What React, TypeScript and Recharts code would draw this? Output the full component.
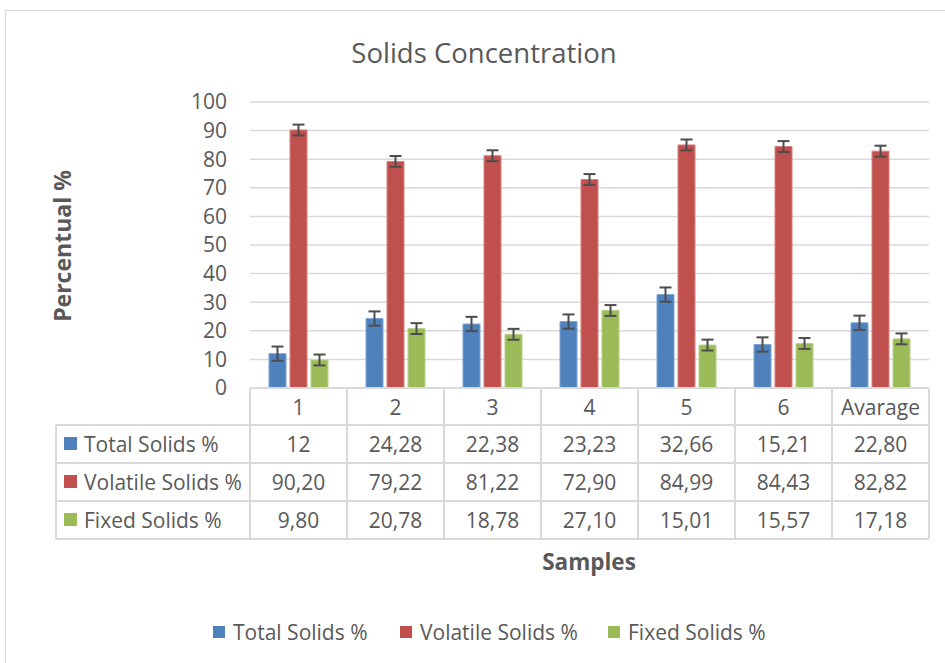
import { BarChart, Bar, XAxis, YAxis, CartesianGrid, ErrorBar } from "recharts";

const categories = ["1", "2", "3", "4", "5", "6", "Avarage"];
const seriesNames = ["Total Solids %", "Volatile Solids %", "Fixed Solids %"];
const seriesColors = ["#4F81BD", "#C0504D", "#9BBB59"];
const seriesStrokes = ["#7FA3D1", "#D68280", "#B8D08A"];

const totalSolids = [12, 24.28, 22.38, 23.23, 32.66, 15.21, 22.8];
const volatileSolids = [90.2, 79.22, 81.22, 72.9, 84.99, 84.43, 82.82];
const fixedSolids = [9.8, 20.78, 18.78, 27.1, 15.01, 15.57, 17.18];

const totalErr = [2.5, 2.5, 2.5, 2.5, 2.5, 2.5, 2.5];
const volatileErr = [1.9, 1.9, 1.9, 1.9, 1.9, 1.9, 1.9];
const fixedErr = [1.9, 1.9, 1.9, 1.9, 1.9, 1.9, 1.9];

const yTicks = [0, 10, 20, 30, 40, 50, 60, 70, 80, 90, 100];

const seriesValues = [totalSolids, volatileSolids, fixedSolids];
const keys = ["total", "volatile", "fixed"];

const data = categories.map((c, i) => ({
  name: c,
  total: totalSolids[i],
  totalErr: totalErr[i],
  volatile: volatileSolids[i],
  volatileErr: volatileErr[i],
  fixed: fixedSolids[i],
  fixedErr: fixedErr[i],
}));

const W = 945;
const H = 663;
const PLOT_LEFT = 250;
const PLOT_RIGHT = 16;
const CELL = (W - PLOT_LEFT - PLOT_RIGHT) / categories.length;
const ROWS = [0, 37, 75, 113, 151];
const TEXT = "#595959";
const LINE = "#D9D9D9";
const FONT = "'Open Sans', sans-serif";
const FS = 21;

const fmt = (v: number) =>
  Number.isInteger(v) ? String(v) : v.toFixed(2).replace(".", ",");

function TableTick(props: any) {
  const { x, y, payload, index } = props;
  const left = x - CELL / 2;
  const right = x + CELL / 2;
  const isLast = index === categories.length - 1;
  return (
    <g>
      <line x1={left} x2={left} y1={y} y2={y + ROWS[4]} stroke={LINE} strokeWidth={2} />
      {isLast && (
        <line x1={right} x2={right} y1={y} y2={y + ROWS[4]} stroke={LINE} strokeWidth={2} />
      )}
      {ROWS.map((r) => (
        <line key={r} x1={left} x2={right} y1={y + r} y2={y + r} stroke={LINE} strokeWidth={2} />
      ))}
      <text
        x={x}
        y={y + (ROWS[0] + ROWS[1]) / 2}
        textAnchor="middle"
        dominantBaseline="central"
        fill={TEXT}
        fontSize={FS}
        fontFamily={FONT}
      >
        {payload.value}
      </text>
      {seriesValues.map((vals, s) => (
        <text
          key={s}
          x={x}
          y={y + (ROWS[s + 1] + ROWS[s + 2]) / 2}
          textAnchor="middle"
          dominantBaseline="central"
          fill={TEXT}
          fontSize={FS}
          fontFamily={FONT}
        >
          {fmt(vals[payload.index ?? index])}
        </text>
      ))}
    </g>
  );
}

export default function App() {
  const axisY = 388;
  const errKeys = ["totalErr", "volatileErr", "fixedErr"];
  return (
    <div
      style={{
        position: "absolute",
        left: 0,
        top: 0,
        width: W,
        height: H,
        overflow: "hidden",
        background: "#fff",
        fontFamily: FONT,
      }}
    >
      <div
        style={{
          position: "absolute",
          left: 5,
          top: 10,
          width: W,
          height: H,
          border: `1px solid ${LINE}`,
        }}
      />
      <BarChart
        width={W}
        height={H}
        data={data}
        margin={{ top: 102, right: PLOT_RIGHT, left: PLOT_LEFT - 40, bottom: H - axisY - 151 }}
        barSize={17}
        barGap={4}
        style={{ position: "absolute", left: 0, top: 0 }}
      >
        <CartesianGrid vertical={false} stroke={LINE} strokeWidth={1.5} />
        <XAxis
          dataKey="name"
          height={151}
          axisLine={false}
          tickLine={false}
          tickSize={0}
          tickMargin={0}
          interval={0}
          tick={<TableTick />}
        />
        <YAxis
          width={40}
          domain={[0, 100]}
          ticks={yTicks}
          interval={0}
          axisLine={false}
          tickLine={false}
          tickMargin={17}
          tick={{ fill: TEXT, fontSize: FS, fontFamily: FONT }}
        />
        {keys.map((k, i) => (
          <Bar
            key={k}
            dataKey={k}
            name={seriesNames[i]}
            fill={seriesColors[i]}
            stroke={seriesStrokes[i]}
            strokeWidth={1}
            isAnimationActive={false}
          >
            <ErrorBar dataKey={errKeys[i]} width={6} stroke="#4D4D4D" strokeWidth={2} />
          </Bar>
        ))}
      </BarChart>
      <svg
        width={W}
        height={H}
        style={{ position: "absolute", left: 0, top: 0, pointerEvents: "none" }}
      >
        <text x={484} y={52} textAnchor="middle" dominantBaseline="central" fill={TEXT} fontSize={27.5} fontFamily={FONT}>
          Solids Concentration
        </text>
        <text
          x={62}
          y={246}
          textAnchor="middle"
          dominantBaseline="central"
          fill={TEXT}
          fontSize={23}
          fontWeight="bold"
          fontFamily={FONT}
          transform="rotate(-90 62 246)"
        >
          Percentual %
        </text>
        <text x={589} y={561} textAnchor="middle" dominantBaseline="central" fill={TEXT} fontSize={22.5} fontWeight="bold" fontFamily={FONT}>
          Samples
        </text>
        {/* left part of the data table */}
        <line x1={56} x2={56} y1={axisY + ROWS[1]} y2={axisY + ROWS[4]} stroke={LINE} strokeWidth={2} />
        {ROWS.slice(1).map((r) => (
          <line key={r} x1={56} x2={PLOT_LEFT} y1={axisY + r} y2={axisY + r} stroke={LINE} strokeWidth={2} />
        ))}
        {seriesNames.map((n, s) => {
          const cy = axisY + (ROWS[s + 1] + ROWS[s + 2]) / 2;
          return (
            <g key={n}>
              <rect x={64} y={cy - 7} width={13} height={13} fill={seriesColors[s]} />
              <text x={84} y={cy} dominantBaseline="central" fill={TEXT} fontSize={FS} fontFamily={FONT}>
                {n}
              </text>
            </g>
          );
        })}
        {/* legend */}
        {seriesNames.map((n, s) => {
          const lx = [213, 400, 608][s];
          return (
            <g key={n}>
              <rect x={lx} y={626} width={12} height={12} fill={seriesColors[s]} />
              <text x={lx + 20} y={632} dominantBaseline="central" fill={TEXT} fontSize={FS} fontFamily={FONT}>
                {n}
              </text>
            </g>
          );
        })}
      </svg>
    </div>
  );
}
